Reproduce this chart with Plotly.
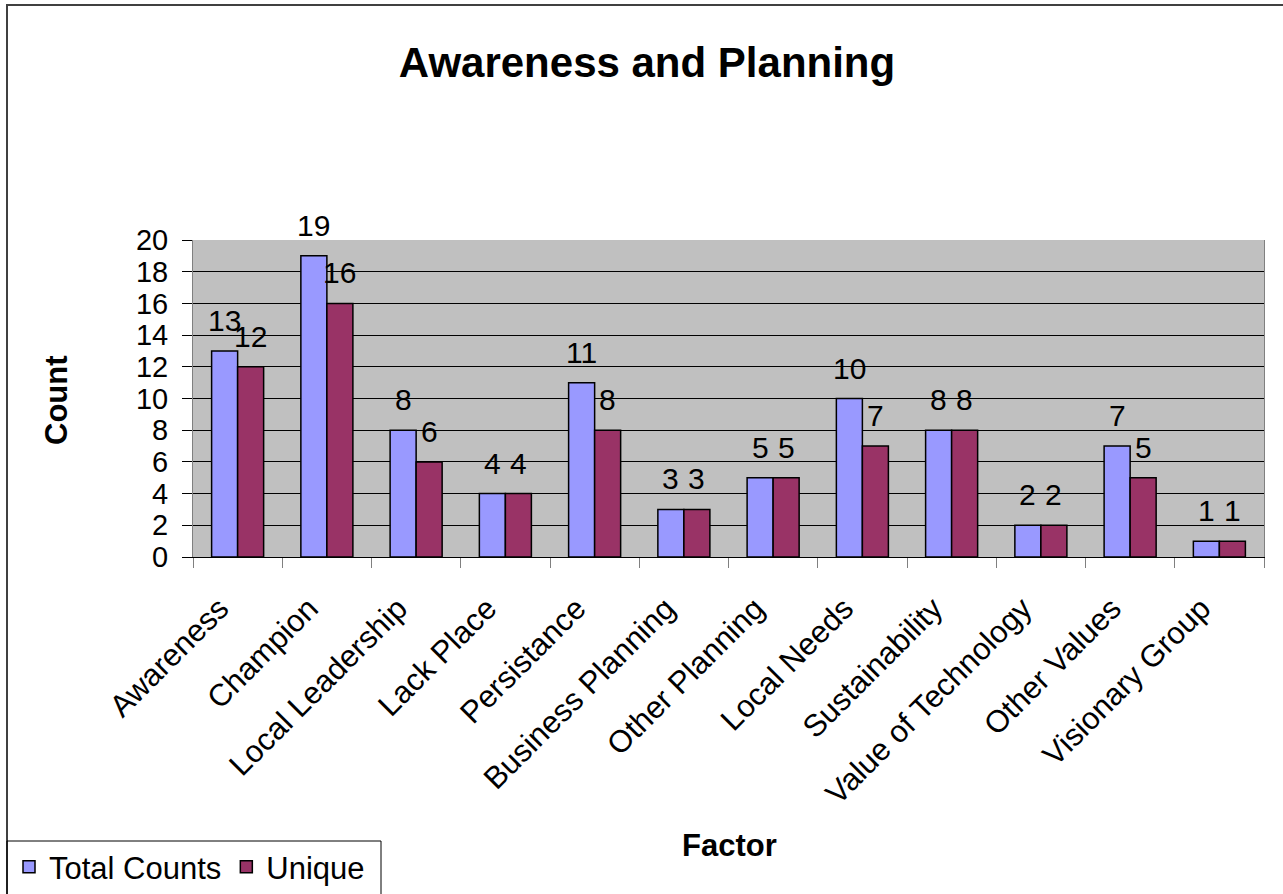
import plotly.graph_objects as go

# Factors and their counts
factors = ["Awareness", "Champion", "Local Leadership", "Lack Place", "Persistance",
           "Business Planning", "Other Planning", "Local Needs", "Sustainability",
           "Value of Technology", "Other Values", "Visionary Group"]
total_counts = [13, 19, 8, 4, 11, 3, 5, 10, 8, 2, 7, 1]
unique_counts = [12, 16, 6, 4, 8, 3, 5, 7, 8, 2, 5, 1]

FONT = "Liberation Sans, Arial, sans-serif"

W, H = 1283, 894
ML, MR, MT, MB = 193, 19, 240, 337
PW, PH = W - ML - MR, H - MT - MB
BARGAP = 0.417

# half a bar's width in pixels, used to centre value labels over each bar
cat_px = PW / len(factors)
half_bar = cat_px * (1 - BARGAP) / 4


def px_x(p):
    return (p - ML) / PW


def px_y(p):
    return (H - MB - p) / PH


series = [("Total Counts", total_counts, "#9999FF", -half_bar),
          ("Unique", unique_counts, "#993366", half_bar)]

fig = go.Figure()
value_labels = []
for name, vals, color, shift in series:
    fig.add_trace(go.Bar(
        x=factors, y=vals, name=name,
        marker=dict(color=color, line=dict(color="black", width=1.5)),
    ))
    for f, v in zip(factors, vals):
        value_labels.append(dict(
            x=f, y=v, xref="x", yref="y", text=str(v), showarrow=False,
            xanchor="center", yanchor="bottom", xshift=shift, yshift=12,
            font=dict(family=FONT, size=30, color="black"),
        ))

fig.update_layout(
    width=W, height=H,
    margin=dict(l=ML, r=MR, t=MT, b=MB),
    paper_bgcolor="white", plot_bgcolor="#C0C0C0",
    barmode="group", bargap=BARGAP, bargroupgap=0,
    font=dict(family=FONT, color="black"),
    title=dict(text="<b>Awareness and Planning</b>", x=647 / W, xref="container",
               xanchor="center", y=1 - 62 / H, yref="container", yanchor="middle",
               font=dict(size=42, family=FONT, color="black")),
    showlegend=True,
    legend=dict(orientation="h", xref="container", yref="container",
                x=9 / W, xanchor="left", y=1 - 867 / H, yanchor="middle",
                font=dict(size=31, family=FONT), bgcolor="rgba(0,0,0,0)",
                borderwidth=0, traceorder="normal", itemwidth=30),
    xaxis=dict(type="category", tickangle=-45, tickfont=dict(size=31, family=FONT),
               showline=True, linecolor="black", linewidth=1,
               ticks="outside", tickson="boundaries", ticklen=10, tickcolor="#808080",
               ticklabelstandoff=20, ticklabelshift=-18, showgrid=False),
    yaxis=dict(range=[0, 20], dtick=2, tickfont=dict(size=29, family=FONT),
               showline=True, linecolor="#808080", linewidth=1, mirror=True,
               ticks="outside", ticklen=10, tickcolor="black", ticklabelstandoff=8,
               showgrid=True, gridcolor="black", gridwidth=1, zeroline=False),
    shapes=[
        # outer chart border
        dict(type="rect", xref="paper", yref="paper",
             x0=px_x(7), x1=px_x(1300), y0=px_y(910), y1=px_y(5),
             line=dict(color="#404040", width=2), fillcolor="rgba(0,0,0,0)", layer="above"),
        # legend frame
        dict(type="rect", xref="paper", yref="paper",
             x0=px_x(7), x1=px_x(381), y0=px_y(910), y1=px_y(841),
             line=dict(color="black", width=1), fillcolor="rgba(0,0,0,0)", layer="above"),
    ],
    annotations=value_labels + [
        dict(text="<b>Count</b>", xref="paper", yref="paper", x=px_x(56), y=px_y(400),
             xanchor="center", yanchor="middle",
             showarrow=False, textangle=-90, font=dict(size=31, family=FONT)),
        dict(text="<b>Factor</b>", xref="paper", yref="paper", x=px_x(729), y=px_y(845),
             xanchor="center", yanchor="middle",
             showarrow=False, font=dict(size=31, family=FONT)),
    ],
)

fig.write_html("out.html")
